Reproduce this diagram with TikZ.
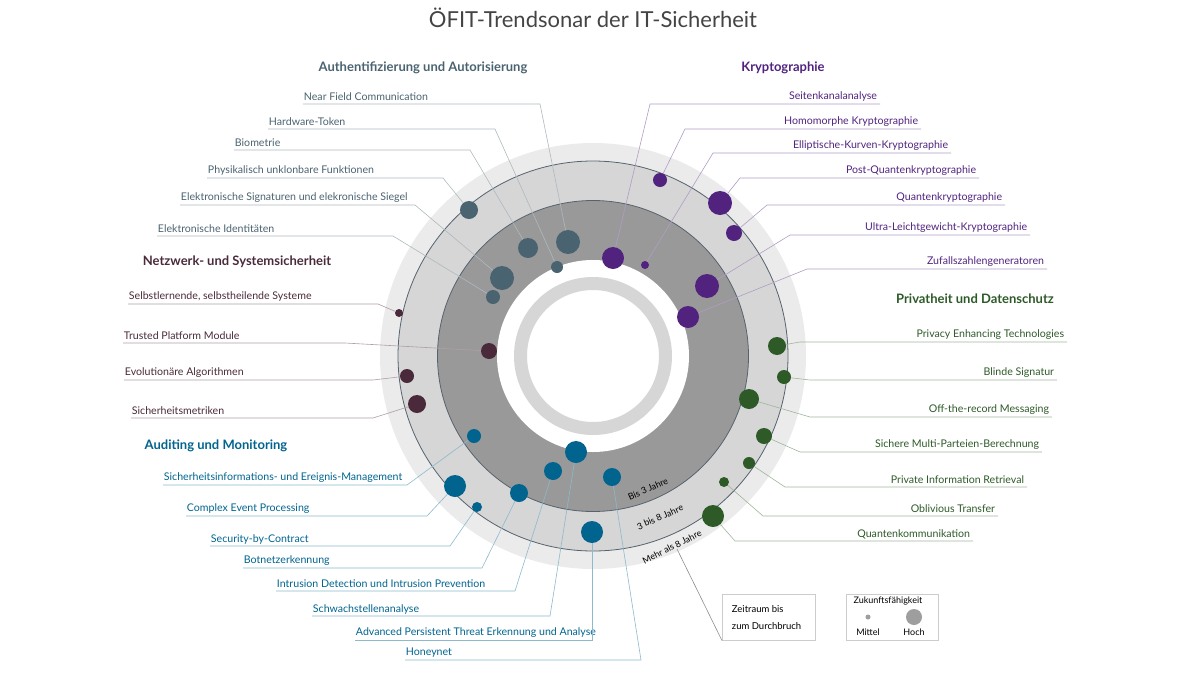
\documentclass[tikz,border=0pt]{standalone}
\usepackage{fontspec}
\setmainfont{Lato}
\usepackage{tikz}
\usepackage{xcolor}

\definecolor{authc}{HTML}{4A6370}
\definecolor{kryc}{HTML}{51237F}
\definecolor{netc}{HTML}{4A2A3A}
\definecolor{audc}{HTML}{00648F}
\definecolor{privc}{HTML}{2D5A27}
\definecolor{ringlight}{HTML}{EBEBEB}
\definecolor{ringmid}{HTML}{D6D6D6}
\definecolor{ringdark}{HTML}{999999}
\definecolor{ringline}{HTML}{56636E}
\definecolor{titlec}{HTML}{444444}

\tikzset{
  lbl/.style={inner sep=0.75pt, font=\fontsize{10.6}{12}\selectfont},
  cat/.style={inner sep=0.75pt, font=\fontsize{13}{15}\selectfont\bfseries},
  dot/.style={circle, fill=#1, inner sep=0pt},
  conn/.style={draw=#1!45, line width=0.6pt},
  legbox/.style={draw=black!20, line width=0.6pt}
}

\begin{document}
\begin{tikzpicture}[x=1pt,y=1pt,yscale=-1]
\useasboundingbox (0,0) rectangle (1200,675);

% rings
\fill[ringlight] (593,356) circle (213);
\draw[fill=ringmid, draw=ringline, line width=0.8pt] (593,356) circle (195);
\draw[fill=ringdark, draw=ringline, line width=0.8pt] (593,356) circle (155.5);
\fill[white] (593,356) circle (96);
\draw[ringmid, line width=13pt] (593,356) circle (72.5);

% ring labels
\node[lbl, rotate=24, font=\fontsize{9}{10}\selectfont] (r1) at (648,489) {Bis 3 Jahre};
\node[lbl, rotate=24, font=\fontsize{9}{10}\selectfont] (r2) at (660,517) {3 bis 8 Jahre};
\node[lbl, rotate=27, font=\fontsize{9}{10}\selectfont] (r3) at (672,547) {Mehr als 8 Jahre};

% title
\node[inner sep=0pt, text=titlec, font=\fontsize{22}{24}\selectfont] (title) at (593,18) {ÖFIT-Trendsonar der IT-Sicherheit};

% categories
\node[cat, text=authc] (catauth) at (423,68) {Authentifizierung und Autorisierung};
\node[cat, text=kryc] (catkry) at (783,68) {Kryptographie};
\node[cat, text=netc] (catnet) at (237,262) {Netzwerk- und Systemsicherheit};
\node[cat, text=privc] (catpriv) at (975,299) {Privatheit und Datenschutz};
\node[cat, text=audc] (cataud) at (216,446) {Auditing und Monitoring};

% left-side labels: name/text/x/y/elbow x/dot x/dot y/size/colour
\foreach \n/\t/\x/\y/\e/\dx/\dy/\s/\c in {
  nfc/Near Field Communication/303/97/540/568/242/24/authc,
  hwt/Hardware-Token/268/122/495/557/267/12/authc,
  bio/Biometrie/234/143/470/528/248/20/authc,
  puf/Physikalisch unklonbare Funktionen/207/171/443/469/210/18/authc,
  esig/Elektronische Signaturen und elekronische Siegel/180/198/415/502/278/24/authc,
  eid/Elektronische Identitäten/157/229/393/493/297/14/authc,
  sls/{Selbstlernende, selbstheilende Systeme}/128/297/378/399/313/8/netc,
  tpm/Trusted Platform Module/123/336/345/489/351/16/netc,
  evo/Evolutionäre Algorithmen/124/373/373/407/376/14/netc,
  smet/Sicherheitsmetriken/131/411/373/417/404/18/netc,
  siem/Sicherheitsinformations- und Ereignis-Management/163/478/407/474/436/14/audc,
  cep/Complex Event Processing/186/509/427/455/486/22/audc,
  sbc/Security-by-Contract/210/539/450/477/507/10/audc,
  bot/Botnetzerkennung/243/561/482/519/493/18/audc,
  ids/Intrusion Detection und Intrusion Prevention/276/584/515/553/471/18/audc,
  vuln/Schwachstellenanalyse/312/609/550/576/452/22/audc,
  apt/Advanced Persistent Threat Erkennung und Analyse/355/633/592/592/532/22/audc,
  hny/Honeynet/405/653/641/612/477/18/audc}
{
  \node[lbl, anchor=west, text=\c] (\n) at (\x,\y) {\t};
  \node[dot=\c, minimum size=\s pt] (\n d) at (\dx,\dy) {};
  \coordinate (\n e) at (\e,\y+7);
  \draw[conn=\c] (\x,\y+7) -- (\n e) -- (\n d);
}

% right-side labels: name/text/right x/y/elbow x/dot x/dot y/size/colour
\foreach \n/\t/\x/\y/\e/\dx/\dy/\s/\c in {
  ska/Seitenkanalanalyse/878/97/650/613/258/22/kryc,
  hom/Homomorphe Kryptographie/919/122/685/660/180/14/kryc,
  ecc/Elliptische-Kurven-Kryptographie/949/146/713/645/265/8/kryc,
  pqc/Post-Quantenkryptographie/977/171/740/720/203/24/kryc,
  qkr/Quantenkryptographie/1003/198/767/734/233/16/kryc,
  ulk/Ultra-Leichtgewicht-Kryptographie/1028/228/790/707/286/24/kryc,
  rng/Zufallszahlengeneratoren/1045/262/807/688/317/22/kryc,
  pet/Privacy Enhancing Technologies/1065/335/800/777/346/18/privc,
  bls/Blinde Signatur/1055/373/810/784/377/14/privc,
  otr/Off-the-record Messaging/1050/410/810/749/399/20/privc,
  mpc/Sichere Multi-Parteien-Berechnung/1040/445/800/764/436/16/privc,
  pir/Private Information Retrieval/1025/480/785/749/463/12/privc,
  ot/Oblivious Transfer/996/509/763/724/482/10/privc,
  qkom/Quantenkommunikation/971/534/735/713/516/22/privc}
{
  \node[lbl, anchor=east, text=\c] (\n) at (\x,\y) {\t};
  \node[dot=\c, minimum size=\s pt] (\n d) at (\dx,\dy) {};
  \coordinate (\n e) at (\e,\y+7);
  \draw[conn=\c] (\x+2,\y+7) -- (\n e) -- (\n d);
}

% legend
\node[legbox, minimum width=93pt, minimum height=46pt, anchor=north west] (zeit) at (722,594) {};
\node[lbl, anchor=west, font=\fontsize{9.5}{10}\selectfont] (zeit1) at (731,609) {Zeitraum bis};
\node[lbl, anchor=west, font=\fontsize{9.5}{10}\selectfont] (zeit2) at (731,626) {zum Durchbruch};
\coordinate (ringpt) at (677,549);
\draw[conn=black] (zeit.south west) -- (ringpt);

\node[legbox, minimum width=92pt, minimum height=46pt, anchor=north west] (zuk) at (846,594) {};
\node[lbl, font=\fontsize{9}{10}\selectfont] (zuk1) at (888,601) {Zukunftsfähigkeit};
\node[dot=black!38, minimum size=5pt] (mid) at (868,617) {};
\node[dot=black!38, minimum size=16pt] (high) at (914,617) {};
\node[lbl, font=\fontsize{9}{10}\selectfont] (midl) at (868,632) {Mittel};
\node[lbl, font=\fontsize{9}{10}\selectfont] (highl) at (914,632) {Hoch};

\end{tikzpicture}
\end{document}
